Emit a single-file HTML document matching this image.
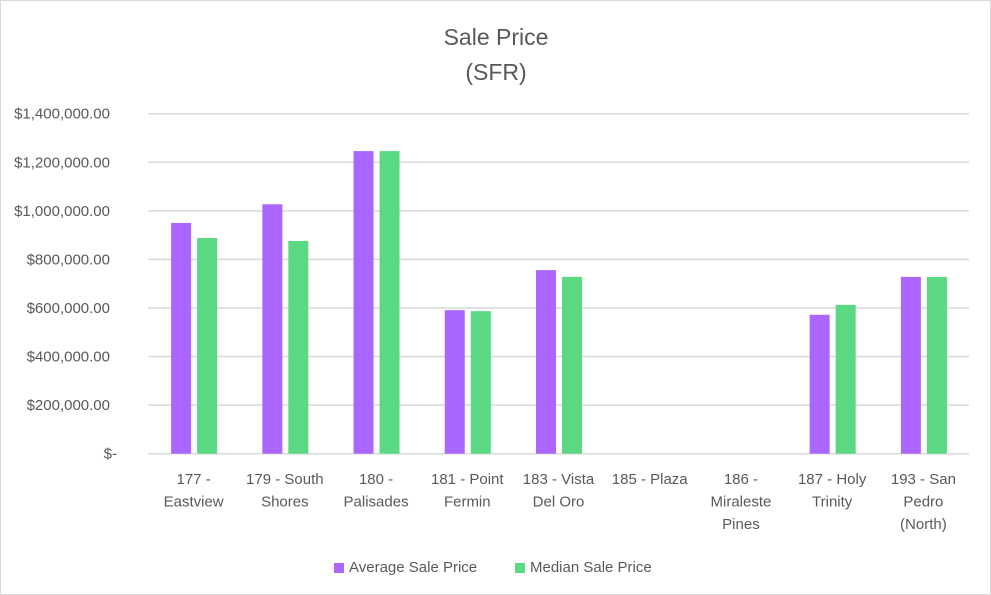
<!DOCTYPE html>
<html><head><meta charset="utf-8"><style>
body{margin:0;background:#fff;}
svg{display:block;font-family:"Liberation Sans",sans-serif;}
</style></head><body>
<svg id="chart" width="991" height="595" viewBox="0 0 991 595">
<rect x="0.5" y="0.5" width="990" height="594" fill="#fff" stroke="#d9d9d9"/>
<text x="496" y="45" text-anchor="middle" font-size="23" fill="#595959">Sale Price</text>
<text x="496" y="80" text-anchor="middle" font-size="23" fill="#595959">(SFR)</text>
<g id="grid"></g><g id="yticks"></g><g id="bars"></g><g id="xlabels"></g>
<g>
<rect x="334" y="563" width="10" height="10" fill="#ab66ff"/>
<text x="349" y="572" font-size="15" fill="#595959">Average Sale Price</text>
<rect x="515" y="563" width="10" height="10" fill="#5ad882"/>
<text x="530" y="572" font-size="15" fill="#595959">Median Sale Price</text>
</g>
</svg>
<script>
const categories=[["177 -","Eastview"],["179 - South","Shores"],["180 -","Palisades"],["181 - Point","Fermin"],["183 - Vista","Del Oro"],["185 - Plaza"],["186 -","Miraleste","Pines"],["187 - Holy","Trinity"],["193 - San","Pedro","(North)"]];
const averageValues=[950000,1027000,1246000,591000,756000,0,0,572000,728000];
const medianValues=[888000,876000,1246000,587000,728000,0,0,613000,728000];
const tickValues=[0,200000,400000,600000,800000,1000000,1200000,1400000];
const tickLabels=["$-","$200,000.00","$400,000.00","$600,000.00","$800,000.00","$1,000,000.00","$1,200,000.00","$1,400,000.00"];
const NS="http://www.w3.org/2000/svg";
const X0=148,X1=969,Y0=453.7,Y1=113.7,YMAX=1400000;
const y=v=>Y0-(v/YMAX)*(Y0-Y1);
const cw=(X1-X0)/categories.length;
const xc=i=>X0+cw*(i+0.5);
function mk(t,a,p){const e=document.createElementNS(NS,t);for(const k in a)e.setAttribute(k,a[k]);p.appendChild(e);return e;}
const grid=document.getElementById('grid'),yt=document.getElementById('yticks'),bars=document.getElementById('bars'),xl=document.getElementById('xlabels');
tickValues.forEach((v,i)=>{
 const l=mk('line',{x1:X0,x2:X1,y1:y(v),y2:y(v),stroke:'#d9d9d9','stroke-width':1.5},grid);
 
 
 const t=mk('text',{x:v===0?117:110,y:y(v)+5,'text-anchor':'end','font-size':15,fill:'#595959'},yt);
 t.textContent=tickLabels[i];
 
 
});
categories.forEach((c,i)=>{
 const cx=xc(i);
 if(averageValues[i]>0){
  const b=mk('rect',{x:cx-22.5,y:y(averageValues[i]),width:20,height:Y0-y(averageValues[i]),fill:'#ab66ff'},bars);
  
  
 }
 if(medianValues[i]>0){
  const b=mk('rect',{x:cx+3.5,y:y(medianValues[i]),width:20,height:Y0-y(medianValues[i]),fill:'#5ad882'},bars);
  
  
 }
 const t=mk('text',{x:cx,y:484,'text-anchor':'middle','font-size':15,fill:'#595959'},xl);
 
 
 c.forEach((line,j)=>{const s=mk('tspan',{x:cx,dy:j?22.5:0},t);s.textContent=line;});
});
</script>
</body></html>
